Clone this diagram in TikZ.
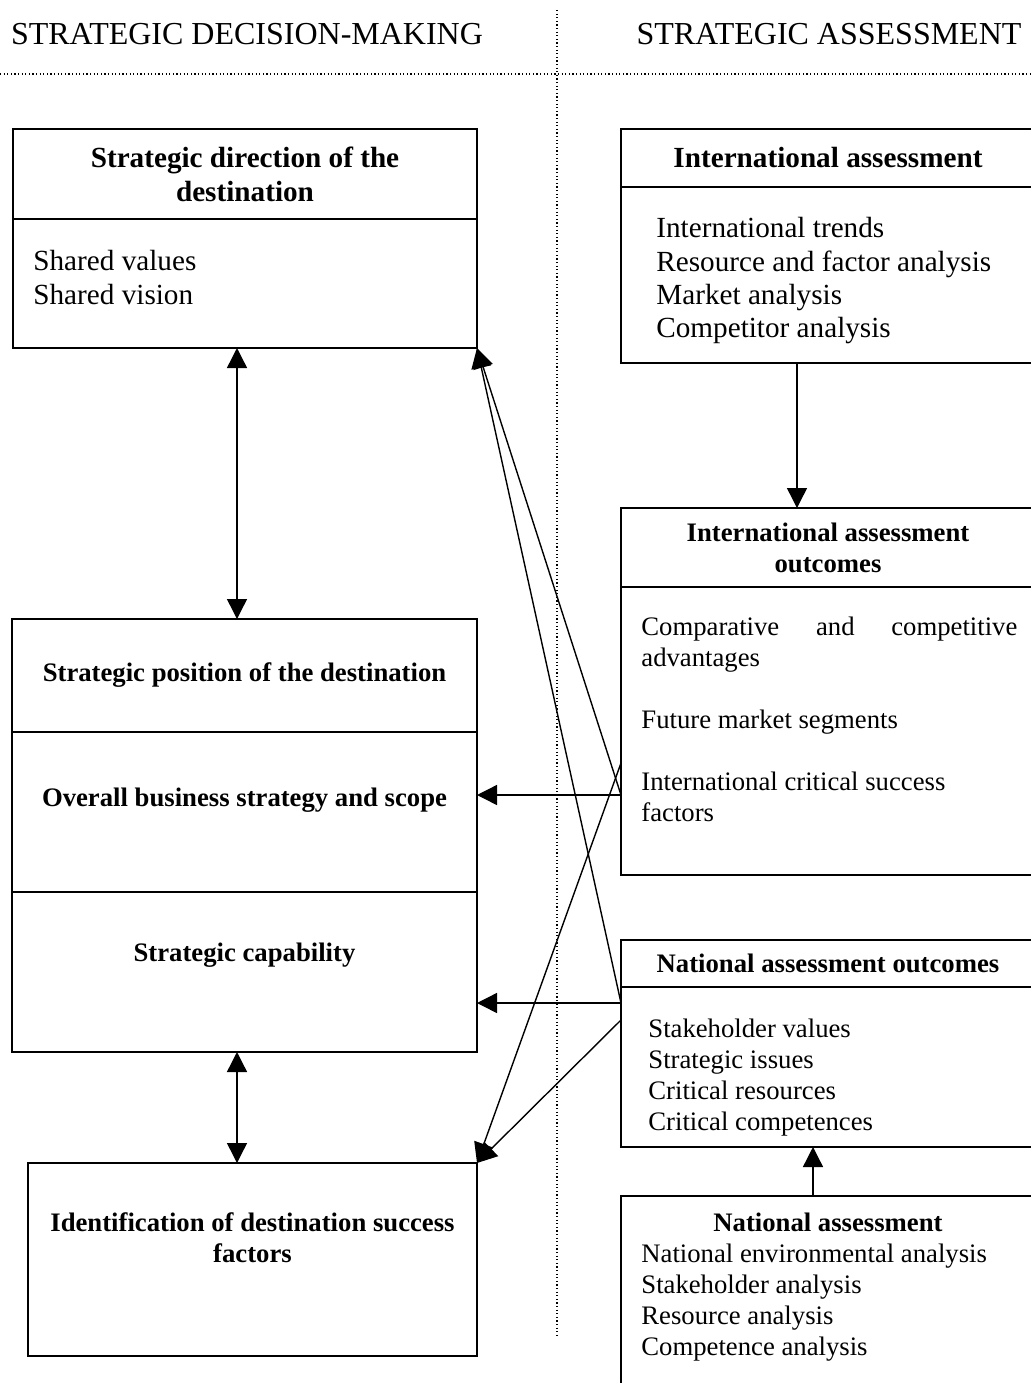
\documentclass[tikz,border=0pt]{standalone}
\usepackage{fontspec}
\setmainfont{Liberation Serif}
\usetikzlibrary{positioning, arrows.meta, calc}

\begin{document}
\begin{tikzpicture}[
  x=0.5pt, y=-0.5pt,
  box/.style={draw, line width=0.8pt, rectangle, inner sep=0pt, outer sep=0pt, anchor=north west},
  lbox/.style={box, minimum width=232.5pt},
  rbox/.style={box, minimum width=207pt},
  coltitle/.style={font=\fontsize{16}{18}\selectfont},
  headbig/.style={font=\bfseries\fontsize{14.6}{17}\selectfont, align=center},
  headsmall/.style={font=\bfseries\fontsize{13.35}{15.5}\selectfont, align=center},
  listbig/.style={font=\fontsize{14.6}{16.7}\selectfont, align=left, anchor=north west, inner sep=0pt},
  listsmall/.style={font=\fontsize{13.35}{15.5}\selectfont, align=left, anchor=north west, inner sep=0pt},
  arr/.style={-{Triangle[length=10pt, width=10pt]}, line width=0.7pt},
  dbl/.style={{Triangle[length=10pt, width=10pt]}-{Triangle[length=10pt, width=10pt]}, line width=0.7pt},
  divider/.style={line width=0.6pt, dash pattern=on 0.6pt off 1.2pt}
]
  \useasboundingbox (0,0) rectangle (1031,1383);
  \clip (0,0) rectangle (1031,1383);

  % column titles and separators
  \node[coltitle] (leftTitle) at (247,34) {STRATEGIC DECISION-MAKING};
  \node[coltitle] (rightTitle) at (829,34) {STRATEGIC ASSESSMENT};
  \draw[divider] (0,74) -- (1031,74);
  \draw[divider] (557,10) -- (557,1338);

  % decision-making side
  \node[lbox, minimum width=232pt, minimum height=45pt, headbig] (dirHead) at (13,129)
    {Strategic direction of the\\destination};
  \node[lbox, minimum width=232pt, minimum height=64.5pt, below=0pt of dirHead] (dirBody) {};
  \node[listbig] (dirList) at ($(dirBody.north west)+(20,31)$) {Shared values\\Shared vision};

  \node[lbox, minimum height=56.5pt, headsmall] (posSec) at (12,619)
    {Strategic position of the destination};
  \node[lbox, minimum height=80pt, below=0pt of posSec] (stratSec) {};
  \node[lbox, minimum height=80pt, below=0pt of stratSec] (capSec) {};
  \node[headsmall] (stratText) at ($(stratSec.center)+(0,-12)$) {Overall business strategy and scope};
  \node[headsmall] (capText) at ($(capSec.center)+(0,-17)$) {Strategic capability};

  \node[box, minimum width=224.5pt, minimum height=96.5pt] (succBox) at (28,1163) {};
  \node[headsmall] (succText) at ($(succBox.center)+(0,-22)$)
    {Identification of destination success\\factors};

  % assessment side
  \node[rbox, minimum height=29pt, headbig] (iaHead) at (621,129) {International assessment};
  \node[rbox, minimum height=88pt, below=0pt of iaHead] (iaBody) {};
  \node[listbig] (iaList) at ($(iaBody.north west)+(35,30)$)
    {International trends\\Resource and factor analysis\\Market analysis\\Competitor analysis};

  \node[rbox, minimum height=39.5pt, headsmall] (ioaHead) at (621,508)
    {International assessment\\outcomes};
  \node[rbox, minimum height=144pt, below=0pt of ioaHead] (ioaBody) {};
  \node[listsmall] (ioaList) at ($(ioaBody.north west)+(20,30)$)
    {\hbox to 188pt{Comparative\hfill and\hfill competitive}\\advantages\\\mbox{}\\Future market segments\\\mbox{}\\
     International critical success\\factors};

  \node[rbox, minimum height=23.5pt, headsmall] (naoHead) at (621,940) {National assessment outcomes};
  \node[rbox, minimum height=80pt, below=0pt of naoHead] (naoBody) {};
  \node[listsmall] (naoList) at ($(naoBody.north west)+(27,32)$)
    {Stakeholder values\\Strategic issues\\Critical resources\\Critical competences};

  \node[rbox, minimum height=105pt] (naBox) at (621,1196) {};
  \node[headsmall, anchor=north, inner sep=0pt] (naTitle) at ($(naBox.north)+(0,17)$) {National assessment};
  \node[listsmall] (naList) at ($(naBox.north west)+(20,48)$)
    {National environmental analysis\\Stakeholder analysis\\Resource analysis\\Competence analysis};

  % connectors
  \coordinate (ioaUp) at ($(ioaBody.north west)+(0,176)$);
  \coordinate (ioaOut) at ($(ioaBody.north west)+(0,208)$);
  \coordinate (naoOut) at ($(naoBody.north west)+(0,16)$);
  \coordinate (naoDown) at ($(naoBody.north west)+(0,33)$);

  \draw[dbl] ([xshift=-4pt]dirBody.south) -- ([xshift=-4pt]dirBody.south |- posSec.north);
  \draw[dbl] ([xshift=-3.75pt]capSec.south) -- ([xshift=-3.75pt]capSec.south |- succBox.north);
  \draw[arr] ([xshift=-15.5pt]iaBody.south) -- ([xshift=-15.5pt]iaBody.south |- ioaHead.north);
  \draw[arr] ([xshift=-7.5pt]naBox.north) -- ([xshift=-7.5pt]naBox.north |- naoBody.south);
  \draw[arr] (ioaOut) -- (ioaOut -| stratSec.east);
  \draw[arr] (naoOut) -- (naoOut -| capSec.east);
  \draw[arr] (ioaOut) -- (dirBody.south east);
  \draw[arr] (naoOut) -- (dirBody.south east);
  \draw[arr] (ioaUp) -- (succBox.north east);
  \draw[arr] (naoDown) -- (succBox.north east);
\end{tikzpicture}
\end{document}
